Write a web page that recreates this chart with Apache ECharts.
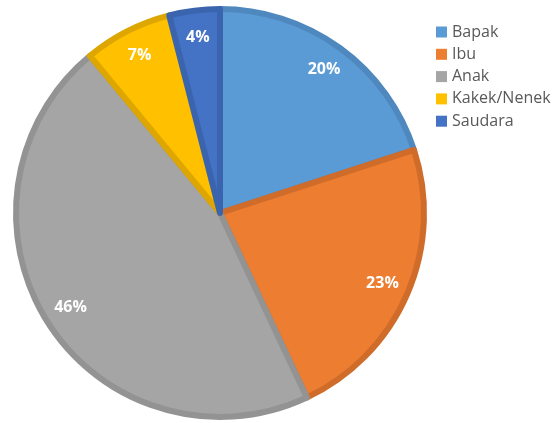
<!DOCTYPE html>
<html>
<head>
<meta charset="utf-8">
<script src="https://cdn.jsdelivr.net/npm/echarts@6/dist/echarts.min.js"></script>
<style>
  html, body { margin: 0; padding: 0; background: #fff; }
  #chart { width: 558px; height: 423px; }
</style>
</head>
<body>
<div id="chart"></div>
<script>
// Family members share, in percent
const categories = ['Bapak', 'Ibu', 'Anak', 'Kakek/Nenek', 'Saudara'];
const shares = [20, 23, 46, 7, 4];

const fillColors = ['#5B9BD5', '#ED7D31', '#A5A5A5', '#FFC000', '#4472C4'];
const edgeColors = ['#4E88BE', '#D06C2A', '#939393', '#DDA600', '#3B64AE'];

const pieData = categories.map((name, i) => ({
  name: name,
  value: shares[i],
  itemStyle: { color: fillColors[i], borderColor: edgeColors[i] }
}));

const labelData = categories.map((name, i) => ({ name: name, value: shares[i] }));

const chart = echarts.init(document.getElementById('chart'), null, { renderer: 'canvas' });
chart.setOption({
  animation: false,
  color: fillColors,
  legend: {
    orient: 'vertical',
    left: 431,
    top: 19,
    itemWidth: 11,
    itemHeight: 11,
    itemGap: 6.3,
    icon: 'rect',
    data: categories,
    itemStyle: { borderWidth: 0 },
    textStyle: { color: '#595959', fontSize: 16, fontFamily: 'Open Sans', lineHeight: 16 }
  },
  series: [
    {
      type: 'pie',
      center: [220, 213],
      radius: [0, 204],
      startAngle: 90,
      clockwise: true,
      data: pieData,
      itemStyle: { borderWidth: 6, borderJoin: 'round' },
      label: { show: false },
      labelLine: { show: false },
      emphasis: { disabled: true },
      silent: true
    },
    {
      // transparent ring carrying the percentage labels near the rim
      type: 'pie',
      center: [220, 213],
      radius: [142, 206],
      startAngle: 90,
      clockwise: true,
      data: labelData,
      itemStyle: { color: 'rgba(0,0,0,0)' },
      label: {
        show: true,
        position: 'inside',
        formatter: '{c}%',
        color: '#ffffff',
        fontSize: 16,
        fontWeight: 'bold',
        fontFamily: 'Open Sans'
      },
      labelLine: { show: false },
      emphasis: { disabled: true },
      silent: true,
      legendHoverLink: false
    }
  ]
});
</script>
</body>
</html>
